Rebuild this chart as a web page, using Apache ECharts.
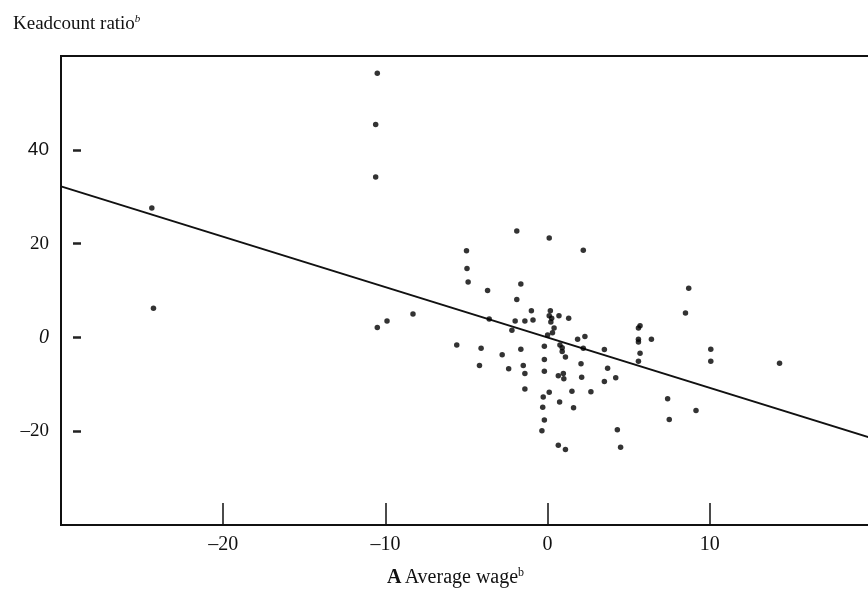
<!DOCTYPE html>
<html>
<head>
<meta charset="utf-8">
<script src="https://cdn.jsdelivr.net/npm/echarts@6/dist/echarts.min.js"></script>
<style>
  html, body { margin: 0; padding: 0; background: #fff; }
  #main { width: 868px; height: 590px; }
</style>
</head>
<body>
<div id="main"></div>
<script>
// change in average wage (x) and headcount ratio (y)
var wageChange = [
  -10.5, -10.6, -10.6, -24.4, -24.3, -10.5, -9.9, -8.3, -5.6,
  -5.0, -4.97, -4.9, -3.7, -4.1, -4.2, -3.6, -2.8, -2.4, -2.2, -2.0, -1.9, -1.65, -1.9,
  -1.65, -1.5, -1.4, -1.4, -1.4, -1.0, -0.9, -0.2, -0.2, -0.2, -0.27, -0.3, -0.2, -0.35,
  0.0, 0.1, 0.17, 0.1, 0.25, 0.2, 0.4, 0.3, 0.7, 1.3, 0.76, 0.9, 0.9, 1.1, 0.66, 0.97,
  1.0, 0.1, 0.74, 0.66, 1.1, 1.5, 1.6, 2.06, 2.1, 1.85, 2.3, 2.2, 2.2, 2.67, 3.5, 3.7,
  3.5, 4.2, 4.3, 4.5,
  5.7, 5.6, 5.6, 5.6, 6.4, 5.7, 5.6, 8.7, 8.5, 10.06, 10.06, 14.3, 7.4, 9.15, 7.5
];
var headcountRatio = [
  56.3, 45.4, 34.2, 27.6, 6.2, 2.1, 3.5, 5.0, -1.6,
  18.5, 14.7, 11.8, 10.0, -2.3, -6.0, 3.9, -3.7, -6.7, 1.5, 3.5, 22.7, 11.4, 8.1,
  -2.5, -6.0, -7.7, -11.0, 3.5, 5.7, 3.7, -1.9, -4.7, -7.2, -12.7, -14.9, -17.6, -19.9,
  0.5, 21.2, 5.7, 4.6, 4.1, 3.3, 2.0, 1.0, 4.6, 4.1, -1.6, -2.2, -3.0, -4.2, -8.2, -7.7,
  -8.8, -11.7, -13.8, -23.0, -23.9, -11.5, -15.0, -5.6, -8.5, -0.4, 0.2, -2.3, 18.6, -11.6, -2.6, -6.6,
  -9.4, -8.6, -19.7, -23.4,
  2.5, 2.0, -0.4, -1.0, -0.4, -3.4, -5.1, 10.5, 5.2, -2.5, -5.1, -5.5, -13.1, -15.6, -17.5
];
// fitted line end points
var fitX = [-30, 20];
var fitY = [32.2, -21.5];
var yTicks = [40, 20, 0, -20];
var xTicks = [-20, -10, 0, 10];

var points = [];
for (var i = 0; i < wageChange.length; i++) {
    points.push([wageChange[i], headcountRatio[i]]);
}
var fitLine = fitX.map(function (x, i) { return [x, fitY[i]]; });

var serif = '"Liberation Serif", "DejaVu Serif", serif';

var chart = echarts.init(document.getElementById('main'));
var option = {
    backgroundColor: '#fff',
    animation: false,
    title: {
        text: '{t|Keadcount ratio}{s|b}',
        left: 8,
        top: 9,
        textStyle: {
            fontWeight: 'normal',
            rich: {
                t: { fontFamily: serif, fontSize: 19, fontWeight: 'normal', color: '#111' },
                s: { fontFamily: serif, fontSize: 11, fontStyle: 'italic', color: '#111', verticalAlign: 'top', padding: [0, 0, 9, 0] }
            }
        }
    },
    grid: {
        left: 61,
        right: -4,
        top: 56,
        bottom: 65,
        show: true,
        borderColor: '#111',
        borderWidth: 2,
        containLabel: false,
        outerBoundsMode: 'none'
    },
    xAxis: {
        type: 'value',
        min: -30,
        max: 20,
        interval: 10,
        splitLine: { show: false },
        axisLine: { show: true, onZero: false, lineStyle: { color: '#111', width: 2 } },
        axisTick: { show: true, inside: true, length: 22, lineStyle: { color: '#111', width: 1.5 } },
        axisLabel: {
            margin: 10,
            fontFamily: serif,
            fontSize: 20,
            color: '#111',
            formatter: function (v) {
                if (xTicks.indexOf(v) < 0) return '';
                return v < 0 ? '\u2013' + Math.abs(v) : String(v);
            }
        },
        name: '{b|A} {n|Average wage}{s|b}',
        nameLocation: 'middle',
        nameGap: 42,
        nameTextStyle: {
            padding: [0, 22, 0, 0],
            rich: {
                b: { fontFamily: serif, fontSize: 20, fontWeight: 'bold', color: '#111' },
                n: { fontFamily: serif, fontSize: 20, color: '#111' },
                s: { fontFamily: serif, fontSize: 12, color: '#111', verticalAlign: 'top', padding: [0, 0, 10, 0] }
            }
        }
    },
    yAxis: [
        {
            type: 'value',
            min: -40,
            max: 60,
            interval: 20,
            splitLine: { show: false },
            axisLine: { show: true, onZero: false, lineStyle: { color: '#111', width: 2 } },
            axisTick: { show: false },
            axisLabel: {
                margin: 12,
                color: '#111',
                formatter: function (v) {
                    if (yTicks.indexOf(v) < 0) return '';
                    if (v === 40) return '{sans|40}';
                    if (v === 0) return '{it|0}';
                    return '{ser|' + (v < 0 ? '\u2013' + Math.abs(v) : v) + '}';
                },
                rich: {
                    sans: { fontFamily: '"Liberation Sans", Arial, sans-serif', fontSize: 19, color: '#111' },
                    ser: { fontFamily: serif, fontSize: 19, color: '#111' },
                    it: { fontFamily: serif, fontSize: 20, fontStyle: 'italic', color: '#111' }
                }
            }
        },
        {
            // the small detached dashes just inside the left axis
            type: 'value',
            position: 'left',
            offset: -12,
            min: -40,
            max: 60,
            interval: 20,
            splitLine: { show: false },
            axisLine: { show: false, onZero: false },
            axisLabel: { show: false },
            axisTick: {
                show: true,
                inside: true,
                length: 8,
                customValues: yTicks,
                lineStyle: { color: '#222', width: 2.5 }
            }
        }
    ],
    series: [
        {
            name: 'fit',
            type: 'line',
            data: fitLine,
            symbol: 'none',
            clip: true,
            lineStyle: { color: '#111', width: 2 },
            z: 2
        },
        {
            name: 'units',
            type: 'scatter',
            data: points,
            symbol: 'circle',
            symbolSize: 5.5,
            itemStyle: { color: '#000' },
            z: 3
        }
    ]
};
chart.setOption(option);
</script>
</body>
</html>
